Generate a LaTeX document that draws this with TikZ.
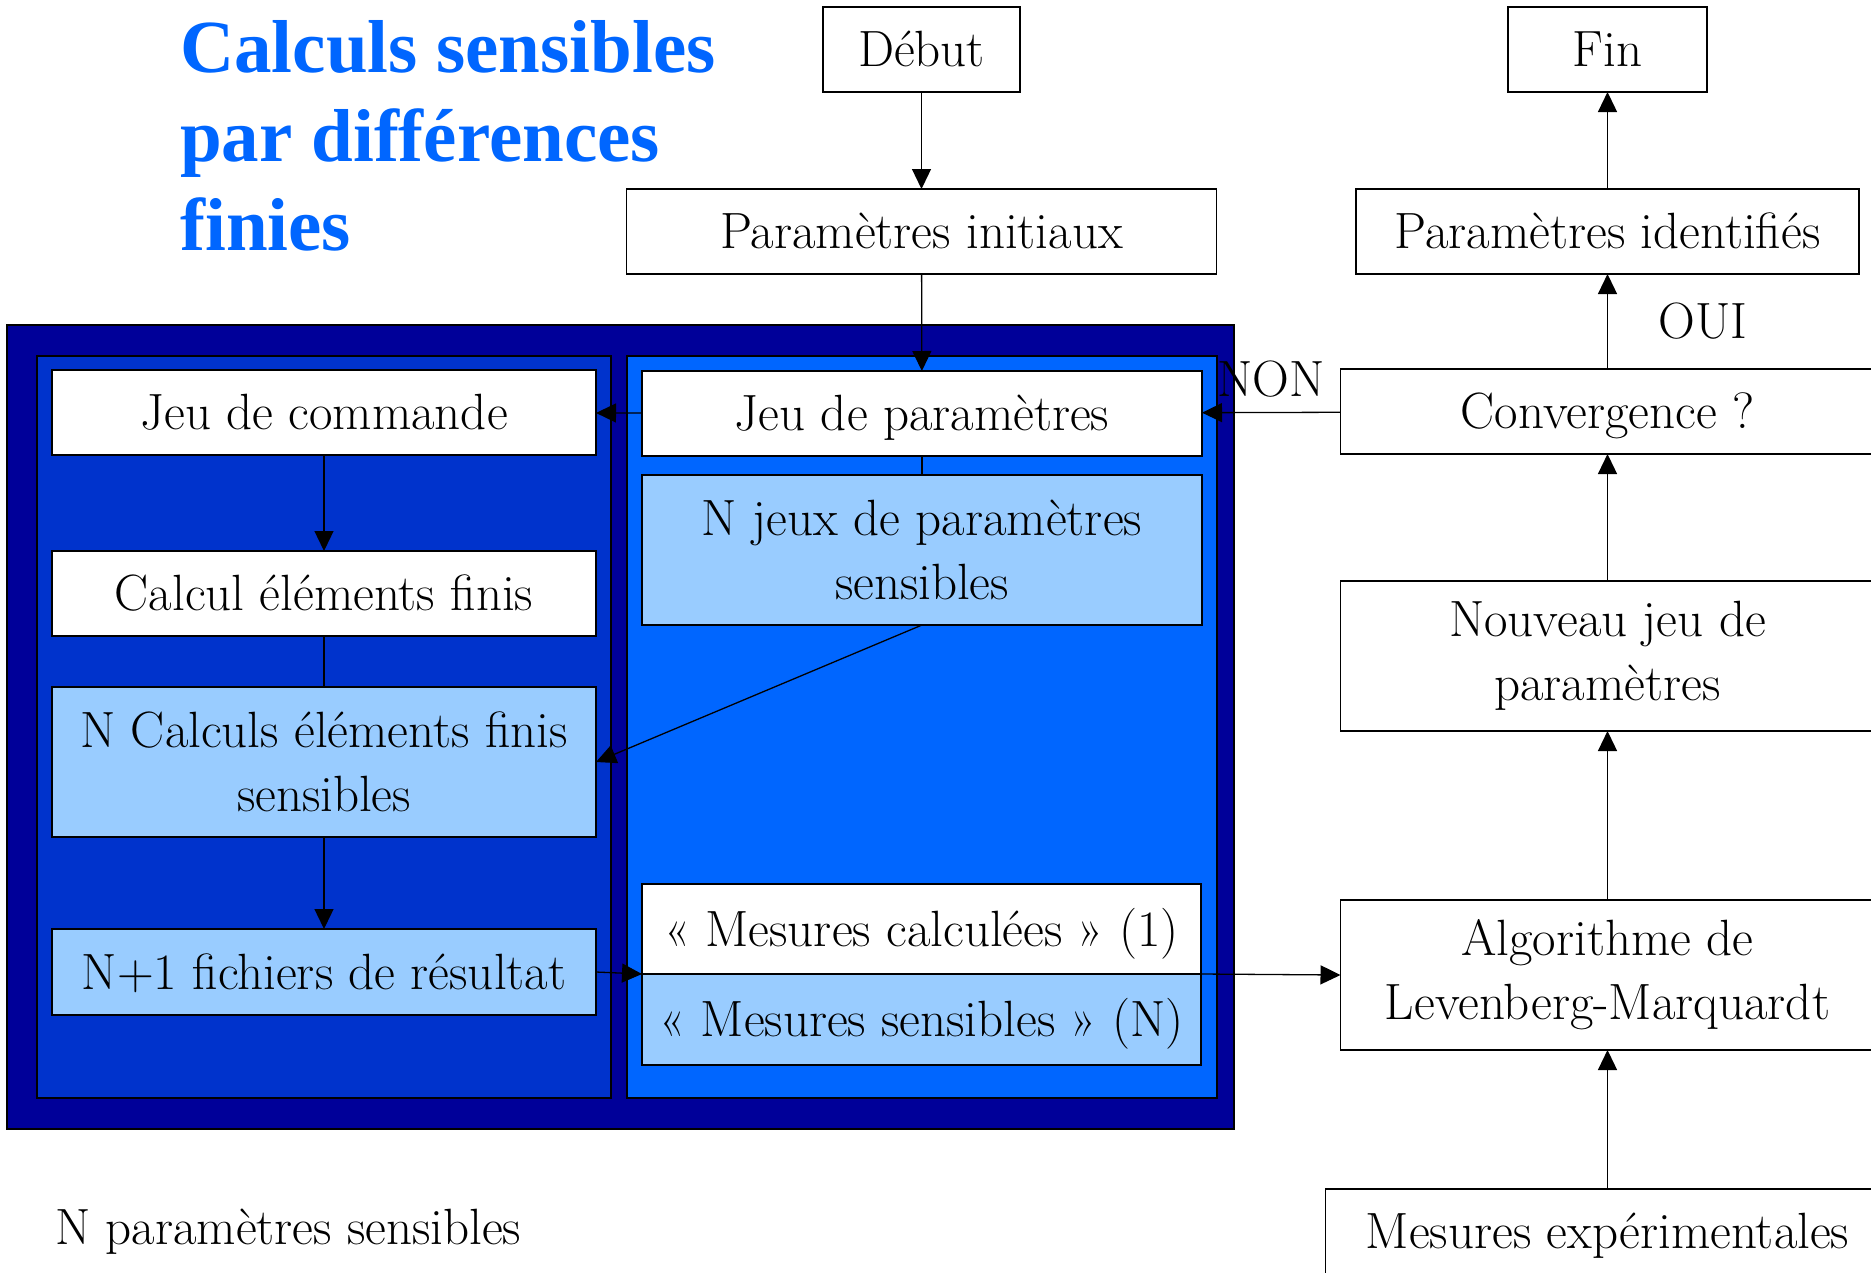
\documentclass[tikz,border=0pt]{standalone}
\usepackage{fontspec}
\usepackage{tikz}
\usetikzlibrary{arrows.meta,positioning}
\newfontfamily\titrefont{Liberation Serif}
\definecolor{fondfonce}{RGB}{0,0,153}
\definecolor{fondgauche}{RGB}{0,51,204}
\definecolor{fonddroit}{RGB}{0,102,255}
\definecolor{sensclair}{RGB}{153,204,255}
\definecolor{titrebleu}{RGB}{0,102,255}

\begin{document}
\begin{tikzpicture}[
    x=1pt,y=-1pt,
    texte/.style={font=\fontsize{51}{64}\selectfont,inner sep=0pt,outer sep=0pt},
    boite/.style={texte,draw,line width=1.6pt,fill=white,align=center,minimum height=85pt,minimum width=544pt},
    ligne/.style={text height=46pt,text depth=12pt},
    sens/.style={boite,fill=sensclair},
    haut/.style={minimum height=150pt},
    fleche/.style={-{Triangle[length=20pt,width=19pt]},line width=1.3pt},
    trait/.style={line width=1.3pt},
    panneau/.style={draw=black,line width=1.6pt}
]
    \useasboundingbox (0,0) rectangle (1871,1272);

    % fonds bleus
    \filldraw[panneau,fill=fondfonce] (7,325) rectangle (1234,1129);
    \filldraw[panneau,fill=fondgauche] (37,356) rectangle (611,1098);
    \filldraw[panneau,fill=fonddroit] (627,356) rectangle (1217,1098);

    \node[anchor=north west,align=left,inner sep=0pt,text=titrebleu,
          font=\titrefont\bfseries\fontsize{75}{89}\selectfont] (titre) at (180,20)
          {Calculs sensibles\\par différences\\finies};

    \node[boite,ligne,minimum width=197pt] (debut) at (921.5,49.5) {Début};
    \node[boite,ligne,minimum width=590pt,below=97pt of debut] (pinit) {Paramètres initiaux};

    \node[boite,ligne,minimum width=199pt] (fin) at (1607.5,49.5) {Fin};
    \node[boite,ligne,minimum width=503pt,below=97pt of fin] (pident) {Paramètres identifiés};
    \node[boite,ligne,minimum width=534pt,below=95pt of pident] (conv) {Convergence ?};
    \node[boite,haut,minimum width=534pt,below=127pt of conv] (nouv) {Nouveau jeu de\\paramètres};
    \node[boite,haut,minimum width=534pt,below=169pt of nouv] (algo) {Algorithme de\\Levenberg-Marquardt};
    \node[boite,ligne,minimum width=564pt,below=139pt of algo] (mexp) {Mesures expérimentales};

    \node[boite,ligne] (jcmd) at (324,412.5) {Jeu de commande};
    \node[boite,ligne,below=96pt of jcmd] (calc) {Calcul éléments finis};
    \node[sens,haut,below=51pt of calc] (ncalc) {N Calculs éléments finis\\sensibles};
    \node[sens,ligne,minimum height=86pt,below=92pt of ncalc] (fich) {N+1 fichiers de résultat};

    \node[boite,ligne,minimum width=560pt] (jparam) at (922,413.5) {Jeu de paramètres};
    \node[sens,haut,minimum width=560pt,below=19pt of jparam] (njeux) {N jeux de paramètres\\sensibles};
    \node[boite,ligne,minimum width=559pt,minimum height=90pt] (mcalc) at (921.5,929) {« Mesures calculées » (1)};
    \node[sens,ligne,minimum width=559pt,minimum height=91pt,below=0pt of mcalc] (msens) {« Mesures sensibles » (N)};

    \node[texte,anchor=base west] (nsens) at (55,1244) {N paramètres sensibles};

    \draw[fleche] (debut) -- (pinit);
    \draw[fleche] (pinit) -- (jparam);
    \draw[fleche] (jparam) -- (jcmd);
    \draw[trait] (jparam) -- (njeux);
    \draw[fleche] (jcmd) -- (calc);
    \draw[trait] (calc) -- (ncalc);
    \draw[fleche] (njeux.south) -- (ncalc.east);
    \draw[fleche] (ncalc) -- (fich);
    \draw[fleche] (fich.east) -- (mcalc.south west);
    \draw[fleche] (mcalc.south east) -- (algo.west);
    \draw[fleche] (mexp) -- (algo);
    \draw[fleche] (algo) -- (nouv);
    \draw[fleche] (nouv) -- (conv);
    \draw[fleche] (conv) -- node[texte,right=51pt]{OUI} (pident);
    \draw[fleche] (pident) -- (fin);
    \draw[fleche] (conv) -- node[texte,above=15pt]{NON} (jparam);
\end{tikzpicture}
\end{document}
